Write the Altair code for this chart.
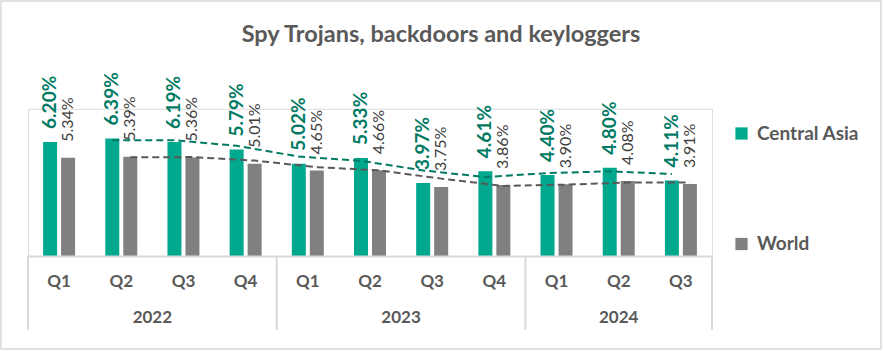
import altair as alt
import pandas as pd

years = ["2022", "2022", "2022", "2022", "2023", "2023", "2023", "2023", "2024", "2024", "2024"]
quarters = ["Q1", "Q2", "Q3", "Q4", "Q1", "Q2", "Q3", "Q4", "Q1", "Q2", "Q3"]
central_asia = [6.20, 6.39, 6.19, 5.79, 5.02, 5.33, 3.97, 4.61, 4.40, 4.80, 4.11]
world = [5.34, 5.39, 5.36, 5.01, 4.65, 4.66, 3.75, 3.86, 3.90, 4.08, 3.91]
series = ["Central Asia", "World"]
title_text = "Spy Trojans, backdoors and keyloggers"

keys = [f"{y} {q}" for y, q in zip(years, quarters)]

rows = []
for i, k in enumerate(keys):
    rows.append({"key": k, "idx": i, "quarter": quarters[i], "series": series[0], "value": central_asia[i]})
    rows.append({"key": k, "idx": i, "quarter": quarters[i], "series": series[1], "value": world[i]})
df = pd.DataFrame(rows)
qdf = pd.DataFrame({"key": keys, "quarter": quarters})

TEAL = "#00A88E"
TEAL_DARK = "#007A63"
GRAY = "#808080"
GRAY_DARK = "#595959"
TXT = "#595959"
LINE = "#D9D9D9"
FONT = "Lato"

W = 684
PX = 18.4
D = 8
H = D * PX
LEFT = 28
TOP = 256 - H
RIGHT = 883 - LEFT - W
BOTTOM = 351 - 256

xscale = alt.Scale(domain=keys, paddingInner=0, paddingOuter=0)
xoff = alt.XOffset("series:N", scale=alt.Scale(domain=series, paddingInner=0.222, paddingOuter=0.839))
yscale = alt.Scale(domain=[0, D], nice=False)
xs = alt.X("key:N", scale=xscale, sort=keys, axis=None)

base = alt.Chart(df)

bars = base.mark_bar().encode(
    x=xs,
    xOffset=xoff,
    y=alt.Y("value:Q", scale=yscale, axis=None),
    color=alt.Color("series:N", scale=alt.Scale(domain=series, range=[TEAL, GRAY]),
                    legend=alt.Legend(title=None, orient="none", legendX=W + 20, legendY=124 - TOP,
                                      symbolType="square", symbolSize=150, symbolStrokeWidth=0,
                                      labelFont=FONT, labelFontSize=19, labelFontWeight="bold",
                                      labelColor=TXT, rowPadding=90.5, labelOffset=6)),
)

lab_ca = base.transform_filter(alt.datum.series == series[0]).transform_calculate(
    t="format(datum.value, '.2f') + '%'"
).mark_text(
    angle=270, align="left", baseline="middle", dx=13, font=FONT, fontSize=19,
    fontWeight="bold", color=TEAL_DARK
).encode(
    x=xs, xOffset=xoff, y=alt.Y("value:Q", scale=yscale), text="t:N",
)

lab_w = base.transform_filter(alt.datum.series == series[1]).transform_calculate(
    t="format(datum.value, '.2f') + '%'"
).mark_text(
    angle=270, align="left", baseline="middle", dx=16, font=FONT, fontSize=16,
    color="#404040"
).encode(
    x=xs, xOffset=xoff, y=alt.Y("value:Q", scale=yscale), text="t:N",
)


def trend(name, color):
    return base.transform_filter(alt.datum.series == name).transform_window(
        ma="mean(value)", n="count()", sort=[alt.SortField("idx")], frame=[-1, 0]
    ).transform_filter(alt.datum.n == 2).mark_line(
        strokeDash=[7, 4], strokeWidth=2, color=color
    ).encode(
        x=xs, xOffset=xoff, y=alt.Y("ma:Q", scale=yscale),
    )


trend_ca = trend(series[0], TEAL_DARK)
trend_w = trend(series[1], GRAY_DARK)

qlabels = alt.Chart(qdf).mark_text(
    font=FONT, fontSize=17, fontWeight="bold", color=TXT, baseline="middle", align="center"
).encode(x=xs, y=alt.value(H + 26), text="quarter:N")

axis_line = alt.Chart(pd.DataFrame({"a": [0]})).mark_rule(color=LINE, strokeWidth=2).encode(
    x=alt.value(0), x2=alt.value(W), y=alt.value(H + 0.5))

year_a = pd.DataFrame({"year": ["2022", "2023"], "anchor": ["2022 Q3", "2023 Q3"]})
year_b = pd.DataFrame({"year": ["2024"], "anchor": ["2024 Q2"]})
yt_a = alt.Chart(year_a).mark_text(font=FONT, fontSize=17, fontWeight="bold", color=TXT, baseline="middle").encode(
    x=alt.X("anchor:N", scale=xscale, bandPosition=0, axis=None), y=alt.value(H + 62), text="year:N")
yt_b = alt.Chart(year_b).mark_text(font=FONT, fontSize=17, fontWeight="bold", color=TXT, baseline="middle").encode(
    x=alt.X("anchor:N", scale=xscale, bandPosition=0.5, axis=None), y=alt.value(H + 62), text="year:N")

sep_a = pd.DataFrame({"anchor": ["2022 Q1", "2023 Q1", "2024 Q1"]})
sep_b = pd.DataFrame({"anchor": ["2024 Q3"]})
rule_a = alt.Chart(sep_a).mark_rule(color=LINE, strokeWidth=2).encode(
    x=alt.X("anchor:N", scale=xscale, bandPosition=0, axis=None), y=alt.value(H), y2=alt.value(H + 74))
rule_b = alt.Chart(sep_b).mark_rule(color=LINE, strokeWidth=2).encode(
    x=alt.X("anchor:N", scale=xscale, bandPosition=1, axis=None), y=alt.value(H), y2=alt.value(H + 74))

frame = alt.Chart(pd.DataFrame({"a": [0]})).mark_rect(
    fill=None, stroke=LINE, strokeWidth=1.5
).encode(
    x=alt.value(-LEFT + 1), x2=alt.value(W + RIGHT - 2),
    y=alt.value(-TOP + 1), y2=alt.value(H + BOTTOM - 2),
)

title = alt.Chart(pd.DataFrame({"t": [title_text]})).mark_text(
    font=FONT, fontSize=23.5, fontWeight="bold", color=TXT, baseline="middle", align="center"
).encode(
    x=alt.value(441 - LEFT), y=alt.value(35 - TOP), text="t:N"
)

chart = alt.layer(
    bars, frame, axis_line, rule_a, rule_b, trend_ca, trend_w, lab_ca, lab_w, qlabels, yt_a, yt_b, title
).properties(
    width=W, height=H,
    autosize=alt.AutoSizeParams(type="none"),
    padding={"left": LEFT, "top": TOP, "right": RIGHT, "bottom": BOTTOM},
).configure_view(stroke=None).configure(background="white")

chart.save("out.html", embed_options={"renderer": "svg", "actions": False})
